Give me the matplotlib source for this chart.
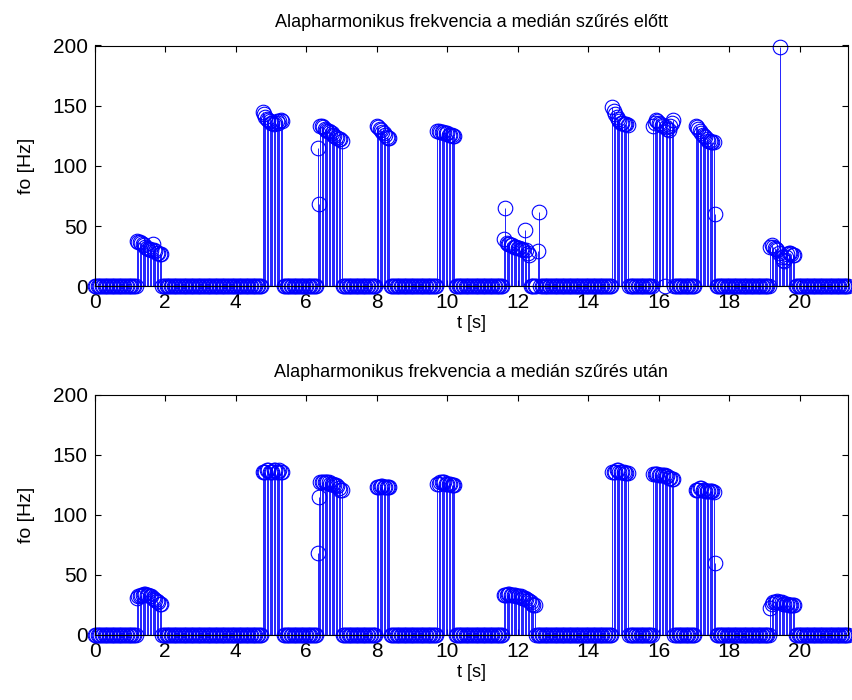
import numpy as np
import matplotlib
matplotlib.use("Agg")
import matplotlib.pyplot as plt

plt.rcParams['font.family'] = ['Liberation Sans', 'DejaVu Sans']

# frame hop [s] and number of analysis frames
hop = 0.04
n_frames = 535

# first frame index of each voiced segment
seg_starts = [30, 119, 158, 200, 243, 290, 367, 396, 426, 479]

# fundamental frequency before median filtering [Hz]
f0_before = [
    [38, 37, 37, 36, 35, 34, 33, 32, 31, 31, 30, 35, 30, 29, 28, 28, 27, 27],
    [145, 143, 141, 139, 138, 137, 136, 136, 135, 136, 137, 136, 137, 138, 137],
    [115, 68, 133, 133, 132, 131, 130, 129, 129, 128, 127, 126, 125, 124, 123, 122, 122, 121],
    [133, 132, 131, 130, 128, 127, 126, 124, 123, 123],
    [129, 129, 128, 128, 128, 127, 127, 127, 126, 126, 126, 125, 125],
    [39, 65, 36, 35, 35, 34, 34, 33, 33, 33, 32, 32, 31, 31, 30, 47, 30, 28, 26,
     0, 0, 0, 0, 0, 29, 62],
    [149, 146, 143, 141, 139, 137, 136, 136, 135, 135, 135, 134],
    [133, 136, 138, 137, 136, 135, 134, 133, 0, 132, 131, 130, 133, 136, 138],
    [133, 132, 131, 129, 127, 126, 125, 124, 122, 121, 121, 120, 120, 120, 60],
    [33, 34, 33, 32, 31, 30, 28, 199, 24, 22, 21, 24, 27, 28, 28, 27, 26, 26],
]

# fundamental frequency after median filtering [Hz]
f0_after = [
    [31, 32, 32, 33, 33, 34, 34, 33, 33, 32, 32, 31, 30, 29, 28, 27, 26, 26],
    [136, 136, 136, 137, 137, 136, 136, 136, 137, 137, 136, 136, 137, 136, 136],
    [68, 115, 127, 127, 127, 127, 127, 127, 127, 126, 126, 126, 125, 125, 124, 122, 121, 121],
    [123, 123, 123, 124, 124, 123, 123, 123, 123, 123],
    [126, 126, 127, 127, 127, 127, 126, 126, 126, 126, 125, 125, 125],
    [33, 33, 33, 34, 34, 33, 33, 33, 33, 32, 32, 32, 32, 31, 31, 31, 30, 29, 28,
     27, 26, 25, 25, 0, 0, 0],
    [136, 136, 136, 137, 137, 136, 136, 136, 136, 135, 135, 135],
    [134, 134, 134, 134, 133, 133, 133, 133, 133, 132, 132, 131, 131, 130, 130],
    [121, 121, 121, 122, 122, 121, 121, 120, 120, 120, 120, 120, 120, 119, 60],
    [22, 26, 27, 27, 27, 28, 27, 27, 27, 26, 26, 26, 26, 25, 25, 25, 25, 25],
]

titles = ['Alapharmonikus frekvencia a medián szűrés előtt',
          'Alapharmonikus frekvencia a medián szűrés után']


def build_track(segments):
    f0 = np.zeros(n_frames)
    for start, vals in zip(seg_starts, segments):
        f0[start:start + len(vals)] = vals
    return f0


t = np.arange(n_frames) * hop

fig = plt.figure(figsize=(8.53, 7.0), dpi=100)
ax1 = fig.add_axes([0.111, 0.591, 0.883, 0.344])
ax2 = fig.add_axes([0.111, 0.093, 0.883, 0.343])

for ax, segs, title in zip([ax1, ax2], [f0_before, f0_after], titles):
    f0 = build_track(segs)
    markerline, stemlines, baseline = ax.stem(t, f0, linefmt='b-', markerfmt='bo', basefmt='k-')
    markerline.set_markerfacecolor('none')
    markerline.set_markersize(10.5)
    markerline.set_markeredgewidth(0.8)
    markerline.set_clip_on(False)
    stemlines.set_linewidth(0.6)
    baseline.set_linewidth(0.8)
    ax.set_xlim(0, t[-1])
    ax.set_ylim(0, 200)
    ax.set_xticks(np.arange(0, 21, 2))
    ax.set_yticks(np.arange(0, 201, 50))
    ax.tick_params(direction='in', length=4, top=True, right=True, labelsize=15, pad=5)
    ax.set_title(title, fontsize=13, pad=13)
    ax.set_xlabel('t [s]', fontsize=13, labelpad=2)
    ax.set_ylabel('fo [Hz]', fontsize=14, labelpad=13)

fig.savefig('out.png', dpi=100)
